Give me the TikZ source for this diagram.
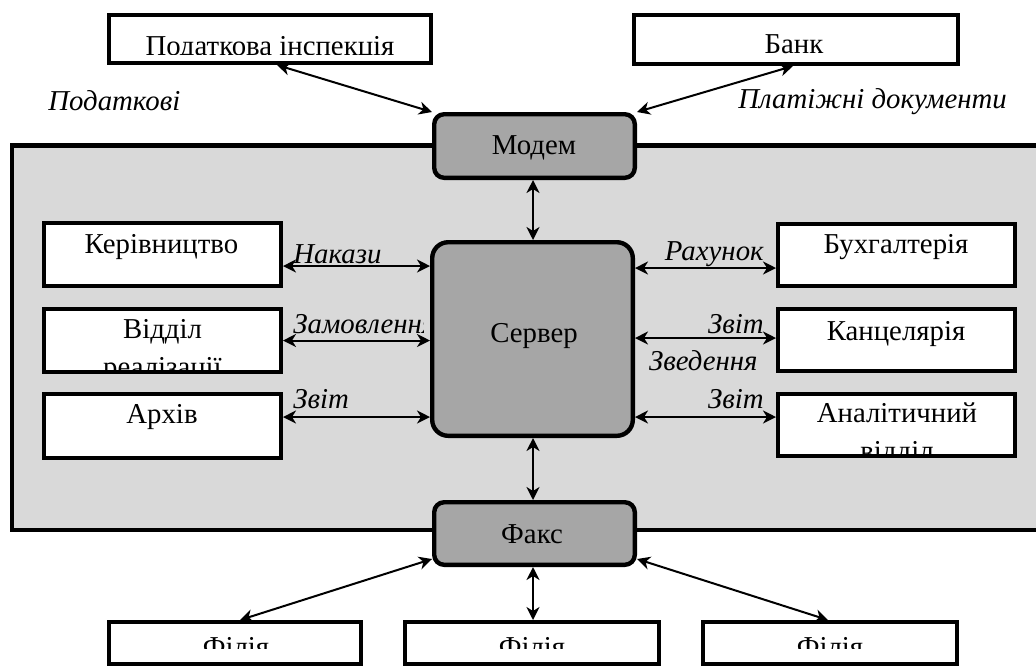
\documentclass[tikz,border=0pt]{standalone}
\usepackage{fontspec}
\setmainfont{Liberation Serif}
\usetikzlibrary{positioning,arrows.meta}

\definecolor{areagray}{HTML}{D9D9D9}
\definecolor{devgray}{HTML}{A6A6A6}

\tikzstyle{box} = [draw, fill=white, line width=2.2pt, inner sep=0pt, minimum width=118.3pt, minimum height=31.3pt]
\tikzstyle{dev} = [draw, fill=devgray, rounded corners=5pt, line width=2.2pt, inner sep=0pt, minimum width=100.3pt, minimum height=31.8pt]
\tikzstyle{area} = [draw, fill=areagray, line width=2.4pt]
\tikzstyle{txt} = [inner sep=0pt, anchor=base, font=\fontsize{14.4}{17}\selectfont]
\tikzstyle{lbl} = [inner sep=0pt, font=\fontsize{14.4}{17}\selectfont\itshape]
\tikzstyle{link} = [line width=1pt, {Stealth[length=6.5pt,width=6.5pt,inset=2pt]}-{Stealth[length=6.5pt,width=6.5pt,inset=2pt]}]

\begin{document}
\begin{tikzpicture}[x=0.5pt, y=-0.5pt]
\useasboundingbox (0,0) rectangle (1036,666);

% office
\draw[area] (12,145.5) rectangle (1100,530);

% outside
\node[box, minimum width=160.8pt, minimum height=23.8pt] (podat) at (270,39) {};
\node[box, minimum width=161.8pt, minimum height=24.3pt] (bank) at (796,39.5) {};
\begin{scope}
\clip (109,15) rectangle (431,54);
\node[txt] (podatt) at (270,55) {Податкова інспекція};
\end{scope}
\node[txt] (bankt) at (794,53) {Банк};
\node[lbl, anchor=base west] (podatl) at (48,110) {Податкові};
\node[lbl, anchor=base west] (bankl) at (738,108) {Платіжні документи};

% devices
\node[dev] (modem) at (534.5,146) {};
\node[dev, rounded corners=8pt, minimum height=96.8pt] (server) at (532.5,339) {};
\node[dev, minimum height=31.3pt] (fax) at (534.5,533.5) {};
\node[txt] (modemt) at (534,154) {Модем};
\node[txt] (servert) at (534,342) {Сервер};
\node[txt] (faxt) at (532,543) {Факс};

% departments
\node[box] (kerivn) at (162.5,254.5) {};
\node[box] (viddil) at (162.5,340.5) {};
\node[box, minimum height=31.8pt] (arkhiv) at (162.5,426) {};
\node[box, minimum height=30.8pt] (buhg) at (896.5,255) {};
\node[box, minimum height=30.8pt] (kants) at (896.5,340) {};
\node[box, minimum height=30.8pt] (analit) at (896.5,425) {};
\node[txt] (kerivnt) at (161.5,253) {Керівництво};
\begin{scope}
\clip (44,309) rectangle (281,372);
\node[txt] (viddilt) at (162.5,338) {Відділ};
\node[txt] (viddilt2) at (162.5,376) {реалізації};
\end{scope}
\node[txt] (arkhivt) at (162,423) {Архів};
\node[txt] (buhgt) at (896,253) {Бухгалтерія};
\node[txt] (kantst) at (896,340) {Канцелярія};
\begin{scope}
\clip (778,394) rectangle (1015,456);
\node[txt] (analitt) at (897,422) {Аналітичний};
\node[txt] (analitt2) at (897,460) {відділ};
\end{scope}

% branches
\node[box, minimum width=125.8pt, minimum height=20.8pt] (filia1) at (235,643) {};
\node[box, minimum width=126.8pt, minimum height=20.8pt] (filia2) at (532,643) {};
\node[box, minimum width=126.8pt, minimum height=20.8pt] (filia3) at (830,643) {};
\begin{scope}
\clip (0,622) rectangle (1036,648);
\node[txt] (filia1t) at (236,656) {Філія};
\node[txt] (filia2t) at (532,656) {Філія};
\node[txt] (filia3t) at (830,656) {Філія};
\end{scope}

% links
\draw[link] ([xshift=3.5pt]podat.south) -- (modem.north west);
\draw[link] ([xshift=-1.5pt]bank.south) -- (modem.north east);
\draw[link] ([xshift=-0.75pt]modem.south) -- ([xshift=-0.75pt]modem.south |- server.north);
\draw[link] ([yshift=-5.75pt]kerivn.east) -- ([yshift=-5.75pt]kerivn.east -| server.west);
\draw[link] (viddil.east) -- (viddil.east -| server.west);
\draw[link] ([yshift=4.5pt]arkhiv.east) -- ([yshift=4.5pt]arkhiv.east -| server.west);
\draw[link] ([yshift=-6.5pt]buhg.west -| server.east) -- ([yshift=-6.5pt]buhg.west);
\draw[link] ([yshift=1pt]kants.west -| server.east) -- ([yshift=1pt]kants.west);
\draw[link] ([yshift=4pt]analit.west -| server.east) -- ([yshift=4pt]analit.west);
\draw[link] ([xshift=0.25pt]server.south) -- ([xshift=0.25pt]server.south |- fax.north);
\draw[link] ([yshift=4pt]fax.south west) -- ([xshift=2.5pt]filia1.north);
\draw[link] ([xshift=-0.75pt]fax.south) -- ([xshift=-0.75pt]fax.south |- filia2.north);
\draw[link] ([yshift=4pt]fax.south east) -- ([xshift=-1pt]filia3.north);

% link labels
\node[lbl, anchor=base west] (nakazy) at (293,263) {Накази};
\begin{scope}
\clip (283,300) rectangle (423,350);
\node[lbl, anchor=base west] (zamovl) at (293,333) {Замовлення};
\end{scope}
\node[lbl, anchor=base west] (zvitl) at (293,408) {Звіт};
\node[lbl, anchor=base east] (rakhunok) at (764,260) {Рахунок};
\node[lbl, anchor=base east] (zvitk) at (764,333) {Звіт};
\node[lbl, anchor=base east] (zveden) at (758,370) {Зведення};
\node[lbl, anchor=base east] (zvita) at (764,408) {Звіт};
\end{tikzpicture}
\end{document}
